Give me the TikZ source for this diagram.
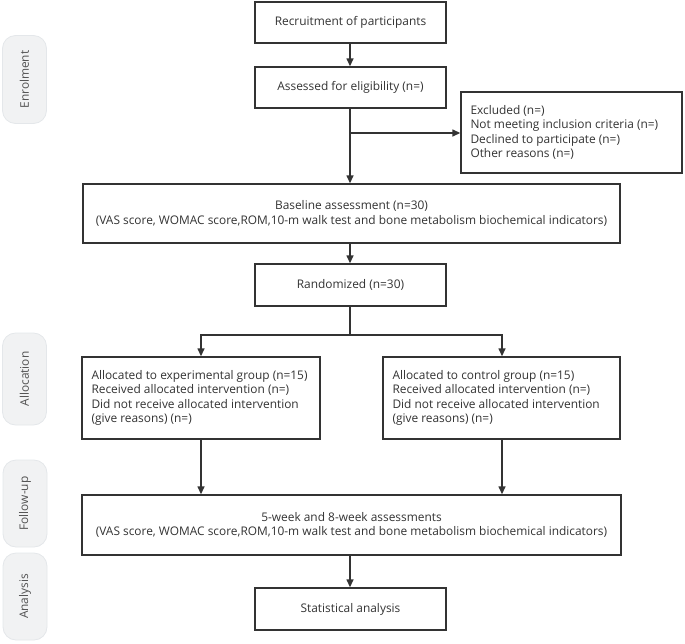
\documentclass[tikz,border=0pt]{standalone}
\usepackage{fontspec}
\setmainfont{Open Sans}
\usetikzlibrary{arrows.meta,calc}
\definecolor{boxline}{HTML}{333333}
\definecolor{txt}{HTML}{333333}
\definecolor{sidefill}{HTML}{F1F2F3}
\definecolor{sideline}{HTML}{E4E7EA}
\begin{document}
\begin{tikzpicture}[x=1pt,y=-1pt,
  txtfont/.style={font=\fontsize{11.9}{14.5}\selectfont},
  box/.style={draw=boxline,line width=1.4pt,fill=white,text=txt,txtfont,inner sep=0pt,align=center},
  ltext/.style={anchor=west,text=txt,txtfont,inner sep=0pt,align=left},
  side/.style={draw=sideline,fill=sidefill,rounded corners=13pt,line width=0.8pt,minimum width=44pt,text=txt!85,txtfont},
  arr/.style={draw=boxline,line width=1.4pt,-{Triangle[length=8pt,width=7pt]}},
  ln/.style={draw=boxline,line width=1.4pt}]
\useasboundingbox (0,0) rectangle (685,643);
% side labels
\node[side,minimum height=88pt] (s1) at (24.5,79.5) {\rotatebox{90}{Enrolment}};
\node[side,minimum height=92pt] (s2) at (24.5,379) {\rotatebox{90}{Allocation}};
\node[side,minimum height=87pt] (s3) at (25,503.5) {\rotatebox{90}{Follow-up}};
\node[side,minimum height=87pt] (s4) at (25,596.5) {\rotatebox{90}{Analysis}};
% boxes
\node[box,minimum width=191pt,minimum height=41pt] (rec) at (350.5,22.5) {Recruitment of participants};
\node[box,minimum width=191pt,minimum height=41pt] (ass) at (350.5,87.5) {Assessed for eligibility (n=)};
\node[box,minimum width=221pt,minimum height=81pt] (exc) at (571.5,132.5) {};
\node[ltext] (exct) at ($(exc.west)+(10,0)$) {Excluded (n=)\\Not meeting inclusion criteria (n=)\\Declined to participate (n=)\\Other reasons (n=)};
\node[box,minimum width=537pt,minimum height=59pt] (base) at (351.5,213.5) {Baseline assessment (n=30)\\(VAS score, WOMAC score,ROM,10-m walk test and bone metabolism biochemical indicators)};
\node[box,minimum width=191pt,minimum height=42pt] (rand) at (350.5,285) {Randomized (n=30)};
\node[box,minimum width=238pt,minimum height=82pt] (al) at (201,398) {};
\node[ltext] (alt) at ($(al.west)+(10,0)$) {Allocated to experimental group (n=15)\\Received allocated intervention (n=)\\Did not receive allocated intervention\\(give reasons) (n=)};
\node[box,minimum width=237pt,minimum height=82pt] (ar) at (501.5,398) {};
\node[ltext] (art) at ($(ar.west)+(10,0)$) {Allocated to control group (n=15)\\Received allocated intervention (n=)\\Did not receive allocated intervention\\(give reasons) (n=)};
\node[box,minimum width=539pt,minimum height=60pt] (fu) at (351.5,525) {5-week and 8-week assessments\\(VAS score, WOMAC score,ROM,10-m walk test and bone metabolism biochemical indicators)};
\node[box,minimum width=191pt,minimum height=42pt] (stat) at (350.5,609) {Statistical analysis};
% connectors
\coordinate (c1) at (350,0);
\coordinate (cL) at (201,0);
\coordinate (cR) at (502,0);
\coordinate (br) at (350,133);
\coordinate (sp) at (350,335);
\draw[arr] (rec.south -| c1) -- (ass.north -| c1);
\draw[arr] (ass.south -| c1) -- (base.north -| c1);
\draw[arr] (br) -- (exc.west |- br);
\draw[arr] (base.south -| c1) -- (rand.north -| c1);
\draw[ln] (rand.south -| c1) -- (sp);
\draw[arr] (sp) -| (al.north -| cL);
\draw[arr] (sp) -| (ar.north -| cR);
\draw[arr] (al.south -| cL) -- (fu.north -| cL);
\draw[arr] (ar.south -| cR) -- (fu.north -| cR);
\draw[arr] (fu.south -| c1) -- (stat.north -| c1);
\end{tikzpicture}
\end{document}
